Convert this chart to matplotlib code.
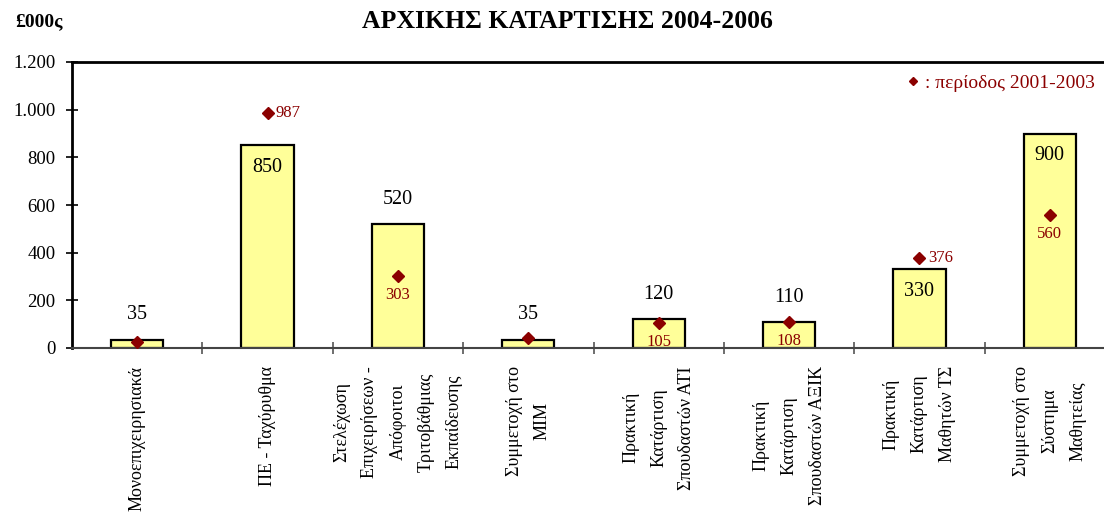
import numpy as np
import matplotlib
matplotlib.use("Agg")
import matplotlib.pyplot as plt
from matplotlib.lines import Line2D
from matplotlib.ticker import FuncFormatter

plt.rcParams['font.family'] = ['Liberation Serif', 'DejaVu Serif']

categories = ['Μονοεπιχειρησιακά',
              'ΠΕ - Ταχύρυθμα',
              'Στελέχωση\nΕπιχειρήσεων -\nΑπόφοιτοι\nΤριτοβάθμιας\nΕκπαίδευσης',
              'Συμμετοχή στο\nΜΙΜ',
              'Πρακτική\nΚατάρτιση\nΣπουδαστών ΑΤΙ',
              'Πρακτική\nΚατάρτιση\nΣπουδαστών ΑΞΙΚ',
              'Πρακτική\nΚατάρτιση\nΜαθητών ΤΣ',
              'Συμμετοχή στο\nΣύστημα\nΜαθητείας']
values_2004_2006 = [35, 850, 520, 35, 120, 110, 330, 900]
values_2001_2003 = [25, 987, 303, 40, 105, 108, 376, 560]

# where each label goes (styling only)
bar_label_pos = ['above', 'inside', 'above', 'above', 'above', 'above', 'inside', 'inside']
prev_label_pos = [None, 'right', 'below', None, 'below', 'below', 'right', 'below']

dark_red = '#8B0000'

fig = plt.figure(figsize=(11.04, 5.13), dpi=100)
ax = fig.add_axes([72 / 1104, 165 / 513, 1043 / 1104, 286 / 513])

x = np.arange(len(categories))
ax.bar(x, values_2004_2006, width=0.4, color='#FFFF99', edgecolor='black', linewidth=1.6, zorder=2)
ax.plot(x, values_2001_2003, linestyle='none', marker='D', markersize=6,
        color=dark_red, zorder=3)

for xi, v, pos in zip(x, values_2004_2006, bar_label_pos):
    if pos == 'above':
        ax.annotate(str(v), (xi, v), xytext=(0, 11), textcoords='offset points',
                    ha='center', va='bottom', fontsize=14.5)
    else:
        ax.annotate(str(v), (xi, v), xytext=(0, -9), textcoords='offset points',
                    ha='center', va='top', fontsize=14.5)

for xi, v, pos in zip(x, values_2001_2003, prev_label_pos):
    if pos == 'right':
        ax.annotate(str(v), (xi, v), xytext=(6, 0), textcoords='offset points',
                    ha='left', va='center', fontsize=12, color=dark_red)
    elif pos == 'below':
        ax.annotate(str(v), (xi, v), xytext=(0, -8), textcoords='offset points',
                    ha='center', va='top', fontsize=12, color=dark_red)

ax.set_xlim(-0.5, len(categories) - 0.5)
ax.set_ylim(0, 1200)
ax.set_yticks(np.arange(0, 1201, 200))
ax.yaxis.set_major_formatter(FuncFormatter(lambda v, p: f'{int(v):,}'.replace(',', '.')))
ax.tick_params(axis='y', direction='inout', length=8, width=1.2, pad=8, labelsize=13.5)

ax.set_xticks(x)
ax.set_xticklabels(categories, rotation=90, fontsize=13, linespacing=1.85)
for lab in ax.get_xticklabels():
    lab.set_multialignment('center')
ax.tick_params(axis='x', which='major', length=0, pad=13)
ax.set_xticks(x[:-1] + 0.5, minor=True)
ax.tick_params(axis='x', which='minor', direction='inout', length=9, width=1.2, color='#555555')

ax.spines['right'].set_visible(False)
ax.spines['top'].set_linewidth(2)
ax.spines['left'].set_linewidth(2)
ax.spines['bottom'].set_color('#444444')
ax.spines['bottom'].set_linewidth(1.5)

handle = Line2D([], [], linestyle='none', marker='D', markersize=4.5, color=dark_red)
leg = fig.legend([handle], [': περίοδος 2001-2003'], loc='upper right',
                 bbox_to_anchor=(1095 / 1104, 1 - 74 / 513), frameon=False,
                 handlelength=0.6, handletextpad=0.3, borderpad=0, borderaxespad=0,
                 fontsize=14)
for t in leg.get_texts():
    t.set_color(dark_red)

fig.text(567 / 1104, 1 - 22 / 513, 'ΑΡΧΙΚΗΣ ΚΑΤΑΡΤΙΣΗΣ 2004-2006', ha='center', va='center',
         fontsize=18.5, fontweight='bold')
fig.text(15 / 1104, 1 - 22 / 513, '£000ς', ha='left', va='center', fontsize=14, fontweight='bold')

fig.savefig('out.png', dpi=100)
